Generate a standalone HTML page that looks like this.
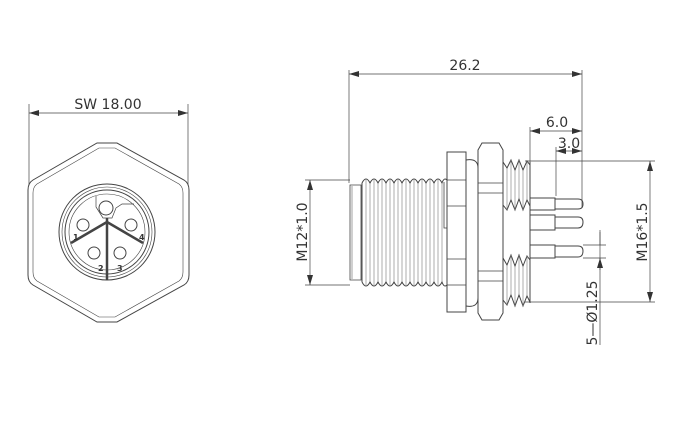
<!DOCTYPE html>
<html><head><style>body{margin:0;background:#fff}svg{display:block}text{font-family:"DejaVu Sans","Liberation Sans",sans-serif;fill:#333}</style></head><body>
<svg width="680" height="440" viewBox="0 0 680 440" xmlns="http://www.w3.org/2000/svg">
<defs><marker id="a" viewBox="0 0 10 6" refX="10" refY="3" markerWidth="10" markerHeight="6" orient="auto-start-reverse" markerUnits="userSpaceOnUse"><path d="M0,0L10,3L0,6z" fill="#333"/></marker></defs>
<g fill="none" stroke="#444" stroke-width="1">
<!-- left view -->
<line x1="29" y1="113" x2="188" y2="113" marker-start="url(#a)" marker-end="url(#a)" stroke-width="0.7"/>
<line x1="29" y1="104" x2="29" y2="185" stroke-width="0.7"/>
<line x1="188" y1="104" x2="188" y2="185" stroke-width="0.7"/>
<path d="M97,143 L117,143 L184,180 Q189,183 189,190 L189,275 Q189,282 184,285 L117,322 L97,322 L33,285 Q28,282 28,275 L28,190 Q28,183 33,180 Z"/>
<path d="M99,148 L115,148 L179,184 Q183,187 183,193 L183,272 Q183,278 179,281 L115,317 L99,317 L37,281 Q33,278 33,272 L33,193 Q33,187 37,184 Z" stroke-width="0.6"/>
<circle cx="107" cy="232" r="48"/><circle cx="107" cy="232" r="45" stroke-width="0.6"/><circle cx="107" cy="232" r="42"/><circle cx="107" cy="232" r="38" stroke-width="0.6"/>
<circle cx="106" cy="208" r="7"/><path d="M96,196 L96,207 L103,218 L112,218 L116,208 L122,204 L134,204" stroke-width="0.7"/>
<path d="M107,218 L107,280 M107,222 L71,243 M107,222 L143,243" stroke-width="2.5"/>
<circle cx="83" cy="225" r="6"/><circle cx="131" cy="225" r="6"/><circle cx="94" cy="253" r="6"/><circle cx="120" cy="253" r="6"/>
<!-- right view dims -->
<line x1="349" y1="74" x2="582" y2="74" marker-start="url(#a)" marker-end="url(#a)" stroke-width="0.7"/>
<line x1="349" y1="70" x2="349" y2="183" stroke-width="0.7"/>
<line x1="582" y1="70" x2="582" y2="208" stroke-width="0.7"/>
<line x1="530" y1="131" x2="582" y2="131" marker-start="url(#a)" marker-end="url(#a)" stroke-width="0.7"/>
<line x1="530" y1="127" x2="530" y2="162" stroke-width="0.7"/>
<line x1="556" y1="151" x2="582" y2="151" marker-start="url(#a)" marker-end="url(#a)" stroke-width="0.7"/>
<line x1="556" y1="147" x2="556" y2="196" stroke-width="0.7"/>
<line x1="305" y1="180" x2="350" y2="180" stroke-width="0.7"/><line x1="305" y1="285" x2="350" y2="285" stroke-width="0.7"/>
<line x1="310" y1="180" x2="310" y2="285" marker-start="url(#a)" marker-end="url(#a)" stroke-width="0.7"/>
<line x1="525" y1="161" x2="655" y2="161" stroke-width="0.7"/><line x1="525" y1="302" x2="655" y2="302" stroke-width="0.7"/>
<line x1="650" y1="161" x2="650" y2="302" marker-start="url(#a)" marker-end="url(#a)" stroke-width="0.7"/>
<line x1="600" y1="230" x2="600" y2="345" stroke-width="0.7"/>
<line x1="583" y1="245" x2="606" y2="245" stroke-width="0.7"/><line x1="583" y1="258" x2="606" y2="258" stroke-width="0.7"/>
<path d="M600,232 L600,245 M600,270 L600,258" marker-end="url(#a)" stroke-width="0.7"/>
<!-- body -->
<path d="M350,185 L361,185 L361,280 L350,280 Z" stroke-width="0.8"/>
<path d="M352,186 L352,279" stroke-width="0.5"/>
<path d="M447,180 L447,285"/>
<path d="M362,183 Q366,175 370,183 Q374,175 378,183 Q382,175 386,183 Q390,175 394,183 Q398,175 402,183 Q406,175 410,183 Q414,175 418,183 Q422,175 426,183 Q430,175 434,183 Q438,175 442,183 Q444,177 447,180"/>
<path d="M362,282 Q366,290 370,282 Q374,290 378,282 Q382,290 386,282 Q390,290 394,282 Q398,290 402,282 Q406,290 410,282 Q414,290 418,282 Q422,290 426,282 Q430,290 434,282 Q438,290 442,282 Q444,288 447,285"/>
<path d="M362,183 L362,282"/>
<g stroke-width="0.6" stroke="#777">
<path d="M366,180 L366,285 M370,183 L370,282 M374,180 L374,285 M378,183 L378,282 M382,180 L382,285 M386,183 L386,282 M390,180 L390,285 M394,183 L394,282 M398,180 L398,285 M402,183 L402,282 M406,180 L406,285 M410,183 L410,282 M414,180 L414,285 M418,183 L418,282 M422,180 L422,285 M426,183 L426,282 M430,180 L430,285 M434,183 L434,282 M438,180 L438,285 M442,183 L442,282"/>
</g>
<path d="M444,182 L444,228 L447,228" stroke-width="0.8"/>
<path d="M447,152 L466,152 L466,312 L447,312 Z"/>
<path d="M447,180 L466,180 M447,206 L466,206 M447,259 L466,259 M447,285 L466,285" stroke-width="0.7"/>
<path d="M466,160 Q478,158 478,168 L478,298 Q478,308 466,306" />
<path d="M482,143 L499,143 L503,150 L503,313 L499,320 L482,320 L478,313 L478,150 Z"/>
<path d="M478,183 L503,183 M478,193 L503,193 M478,271 L503,271 M478,281 L503,281" stroke-width="0.7"/>
<!-- rear threads -->
<path d="M503,162 L507,168 L511,160 L515,170 L519,160 L523,170 L527,161 L530,165 M503,205 L507,210 L511,200 L515,210 L519,199 L523,210 L527,200 L530,206"/>
<path d="M507,168 L507,210 M511,160 L511,200 M515,170 L515,210 M519,160 L519,199 M523,170 L523,210 M527,161 L527,200" stroke-width="0.6" stroke="#777"/>
<path d="M503,258 L507,265 L511,255 L515,266 L519,255 L523,266 L527,256 L530,260 M503,300 L507,305 L511,295 L515,306 L519,295 L523,306 L527,296 L530,302"/>
<path d="M507,265 L507,305 M511,255 L511,295 M515,266 L515,306 M519,255 L519,295 M523,266 L523,306 M527,256 L527,296" stroke-width="0.6" stroke="#777"/>
<path d="M530,162 L530,303"/>
<path d="M530,198 L555,198 L555,210 L530,210 M555,199 L578,199 Q583,199 583,204 Q583,209 578,209 L555,209"/>
<path d="M530,215 L555,215 L555,230 L530,230 M555,217 L578,217 Q583,217 583,222 Q583,228 578,228 L555,228"/>
<path d="M530,245 L555,245 L555,258 L530,258 M555,246 L578,246 Q583,246 583,251 Q583,257 578,257 L555,257"/>
</g>
<text x="108" y="109" font-size="14" text-anchor="middle">SW 18.00</text>
<g font-size="8" font-weight="bold"><text x="73" y="240">1</text><text x="98" y="271">2</text><text x="117" y="271">3</text><text x="139" y="240">4</text></g>
<text x="465" y="70" font-size="14" text-anchor="middle">26.2</text>
<text x="557" y="127" font-size="14" text-anchor="middle">6.0</text>
<text x="569" y="148" font-size="14" text-anchor="middle">3.0</text>
<text transform="translate(307,232) rotate(-90)" font-size="14" text-anchor="middle">M12*1.0</text>
<text transform="translate(647,232) rotate(-90)" font-size="14" text-anchor="middle">M16*1.5</text>
<text transform="translate(597,313) rotate(-90)" font-size="14" text-anchor="middle">5—Ø1.25</text>
</svg>
</body></html>
